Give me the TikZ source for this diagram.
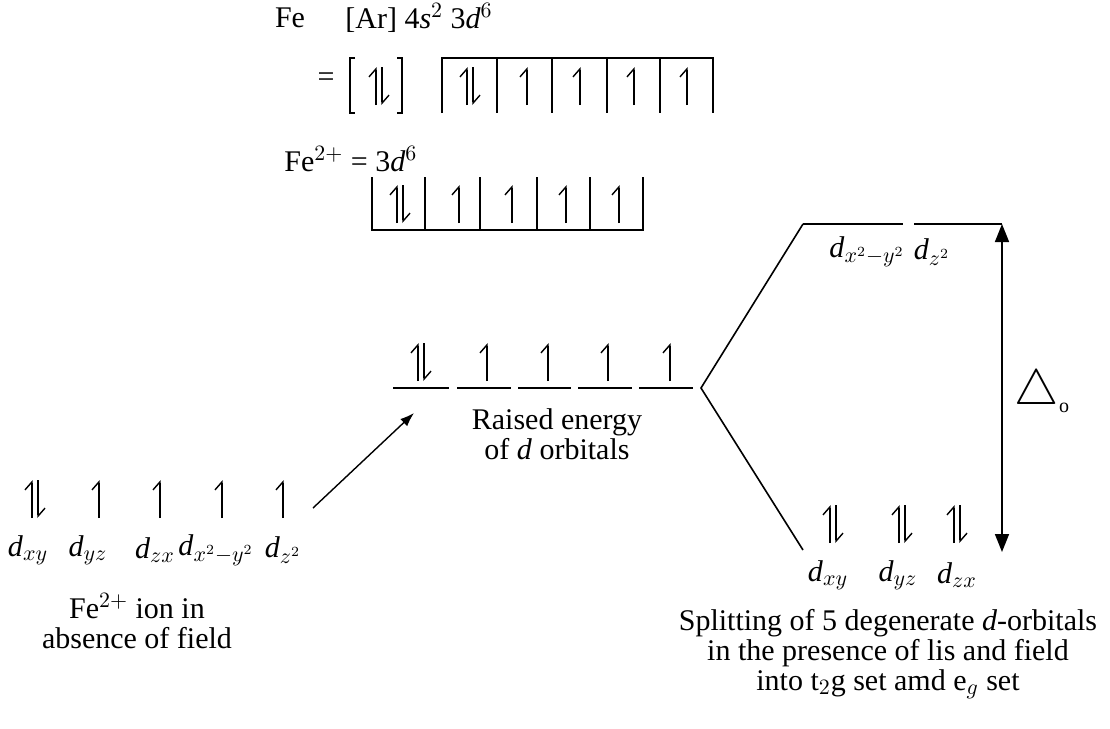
\documentclass[tikz,border=0pt]{standalone}
\usepackage{fontspec}
\setmainfont{Liberation Serif}
\usetikzlibrary{arrows.meta,positioning}

\tikzset{
  spin/.style={line width=0.7pt, -{Straight Barb[left,length=4pt,width=7pt]}},
  spinup/.pic={\draw[spin] (0,19) -- (0,-19);},
  spinpair/.pic={\draw[spin] (-3,19) -- (-3,-19); \draw[spin] (3,-19) -- (3,19);},
  lvl/.style={line width=0.8pt},
  cell/.style={line width=0.8pt},
  txt/.style={inner sep=1pt},
}

\begin{document}
\begin{tikzpicture}[x=0.5pt, y=-0.5pt, font=\fontsize{15}{15}\selectfont]
  \useasboundingbox (0,0) rectangle (1110,729);

  % ground state of Fe
  \node[txt] (fe) at (290,18) {Fe};
  \node[txt, anchor=west] (feconf) at (343,18) {[Ar] 4\textit{s}$^2$ 3\textit{d}$^6$};
  \node[txt] (eqa) at (326,80) {=};
  \draw[cell] (355,58) -- (350,58) -- (350,113) -- (355,113);
  \draw[cell] (397,58) -- (402,58) -- (402,113) -- (397,113);
  \pic at (379,86) {spinpair};
  \draw[cell] (442,113) -- (442,58) -- (713,58) -- (713,113);
  \foreach \x in {497,552,607,660} \draw[cell] (\x,58) -- (\x,113);
  \pic at (470,86) {spinpair};
  \foreach \x in {527,580,634,687} \pic at (\x,86) {spinup};

  % Fe2+ ion
  \node[txt, anchor=west] (fetwo) at (282,159) {Fe$^{2+}$ = 3\textit{d}$^6$};
  \draw[cell] (372,177) -- (372,230) -- (643,230) -- (643,177);
  \foreach \x in {425,480,537,590} \draw[cell] (\x,177) -- (\x,230);
  \pic at (400,204) {spinpair};
  \foreach \x in {459,512,566,619} \pic at (\x,204) {spinup};

  % free ion, no field
  \pic at (35,499) {spinpair};
  \foreach \x in {99,160,222,283} \pic at (\x,499) {spinup};
  \foreach \i/\x/\s in {1/28/xy, 2/88/yz, 3/155/zx, 4/216/{x^2-y^2}, 5/283/{z^2}}
    \node[txt] (free\i) at (\x,550) {\textit{d}$_{\s}$};
  \node[txt, align=center] (freelab) at (137,621) {Fe$^{2+}$ ion in\\absence of field};

  % raised level
  \foreach \a/\b in {393/449, 457/511, 518/571, 578/632, 639/693}
    \draw[lvl] (\a,388) -- (\b,388);
  \pic at (421,362) {spinpair};
  \foreach \x in {487,548,608,670} \pic at (\x,362) {spinup};
  \node[txt, align=center] (raised) at (557,434) {Raised energy\\of \textit{d} orbitals};

  \coordinate (start) at (313,508);
  \coordinate (end) at (414,413);
  \draw[line width=0.7pt, -{Latex[length=7pt,width=5pt]}] (start) -- (end);

  % splitting in the field
  \coordinate (split) at (701,388);
  \coordinate (egL) at (803,224);
  \coordinate (tgL) at (803,550);
  \draw[lvl] (egL) -- (split) -- (tgL);
  \draw[lvl] (egL) -- (903,224);
  \draw[lvl] (914,224) -- (1002,224);
  \node[txt] (egone) at (867,252) {\textit{d}$_{x^2-y^2}$};
  \node[txt] (egtwo) at (932,252) {\textit{d}$_{z^2}$};
  \foreach \x in {833,902,957} \pic at (\x,524) {spinpair};
  \foreach \i/\x/\s in {1/828/xy, 2/898/yz, 3/957/zx}
    \node[txt] (tg\i) at (\x,575) {\textit{d}$_{\s}$};

  \coordinate (dtop) at (1002,224);
  \coordinate (dbot) at (1002,552);
  \draw[line width=0.8pt, {Triangle[length=9pt,width=7pt]}-{Triangle[length=9pt,width=7pt]}] (dtop) -- (dbot);
  \node[txt] (delta) at (1042,392) {\fontsize{23}{23}\selectfont$\triangle$\raisebox{-4pt}{\fontsize{10}{10}\selectfont o}};

  \node[txt, align=center] (splitlab) at (888,654) {Splitting of 5 degenerate \textit{d}-orbitals\\in the presence of lis and field\\into t$_2$g set amd e$_g$ set};
\end{tikzpicture}
\end{document}
